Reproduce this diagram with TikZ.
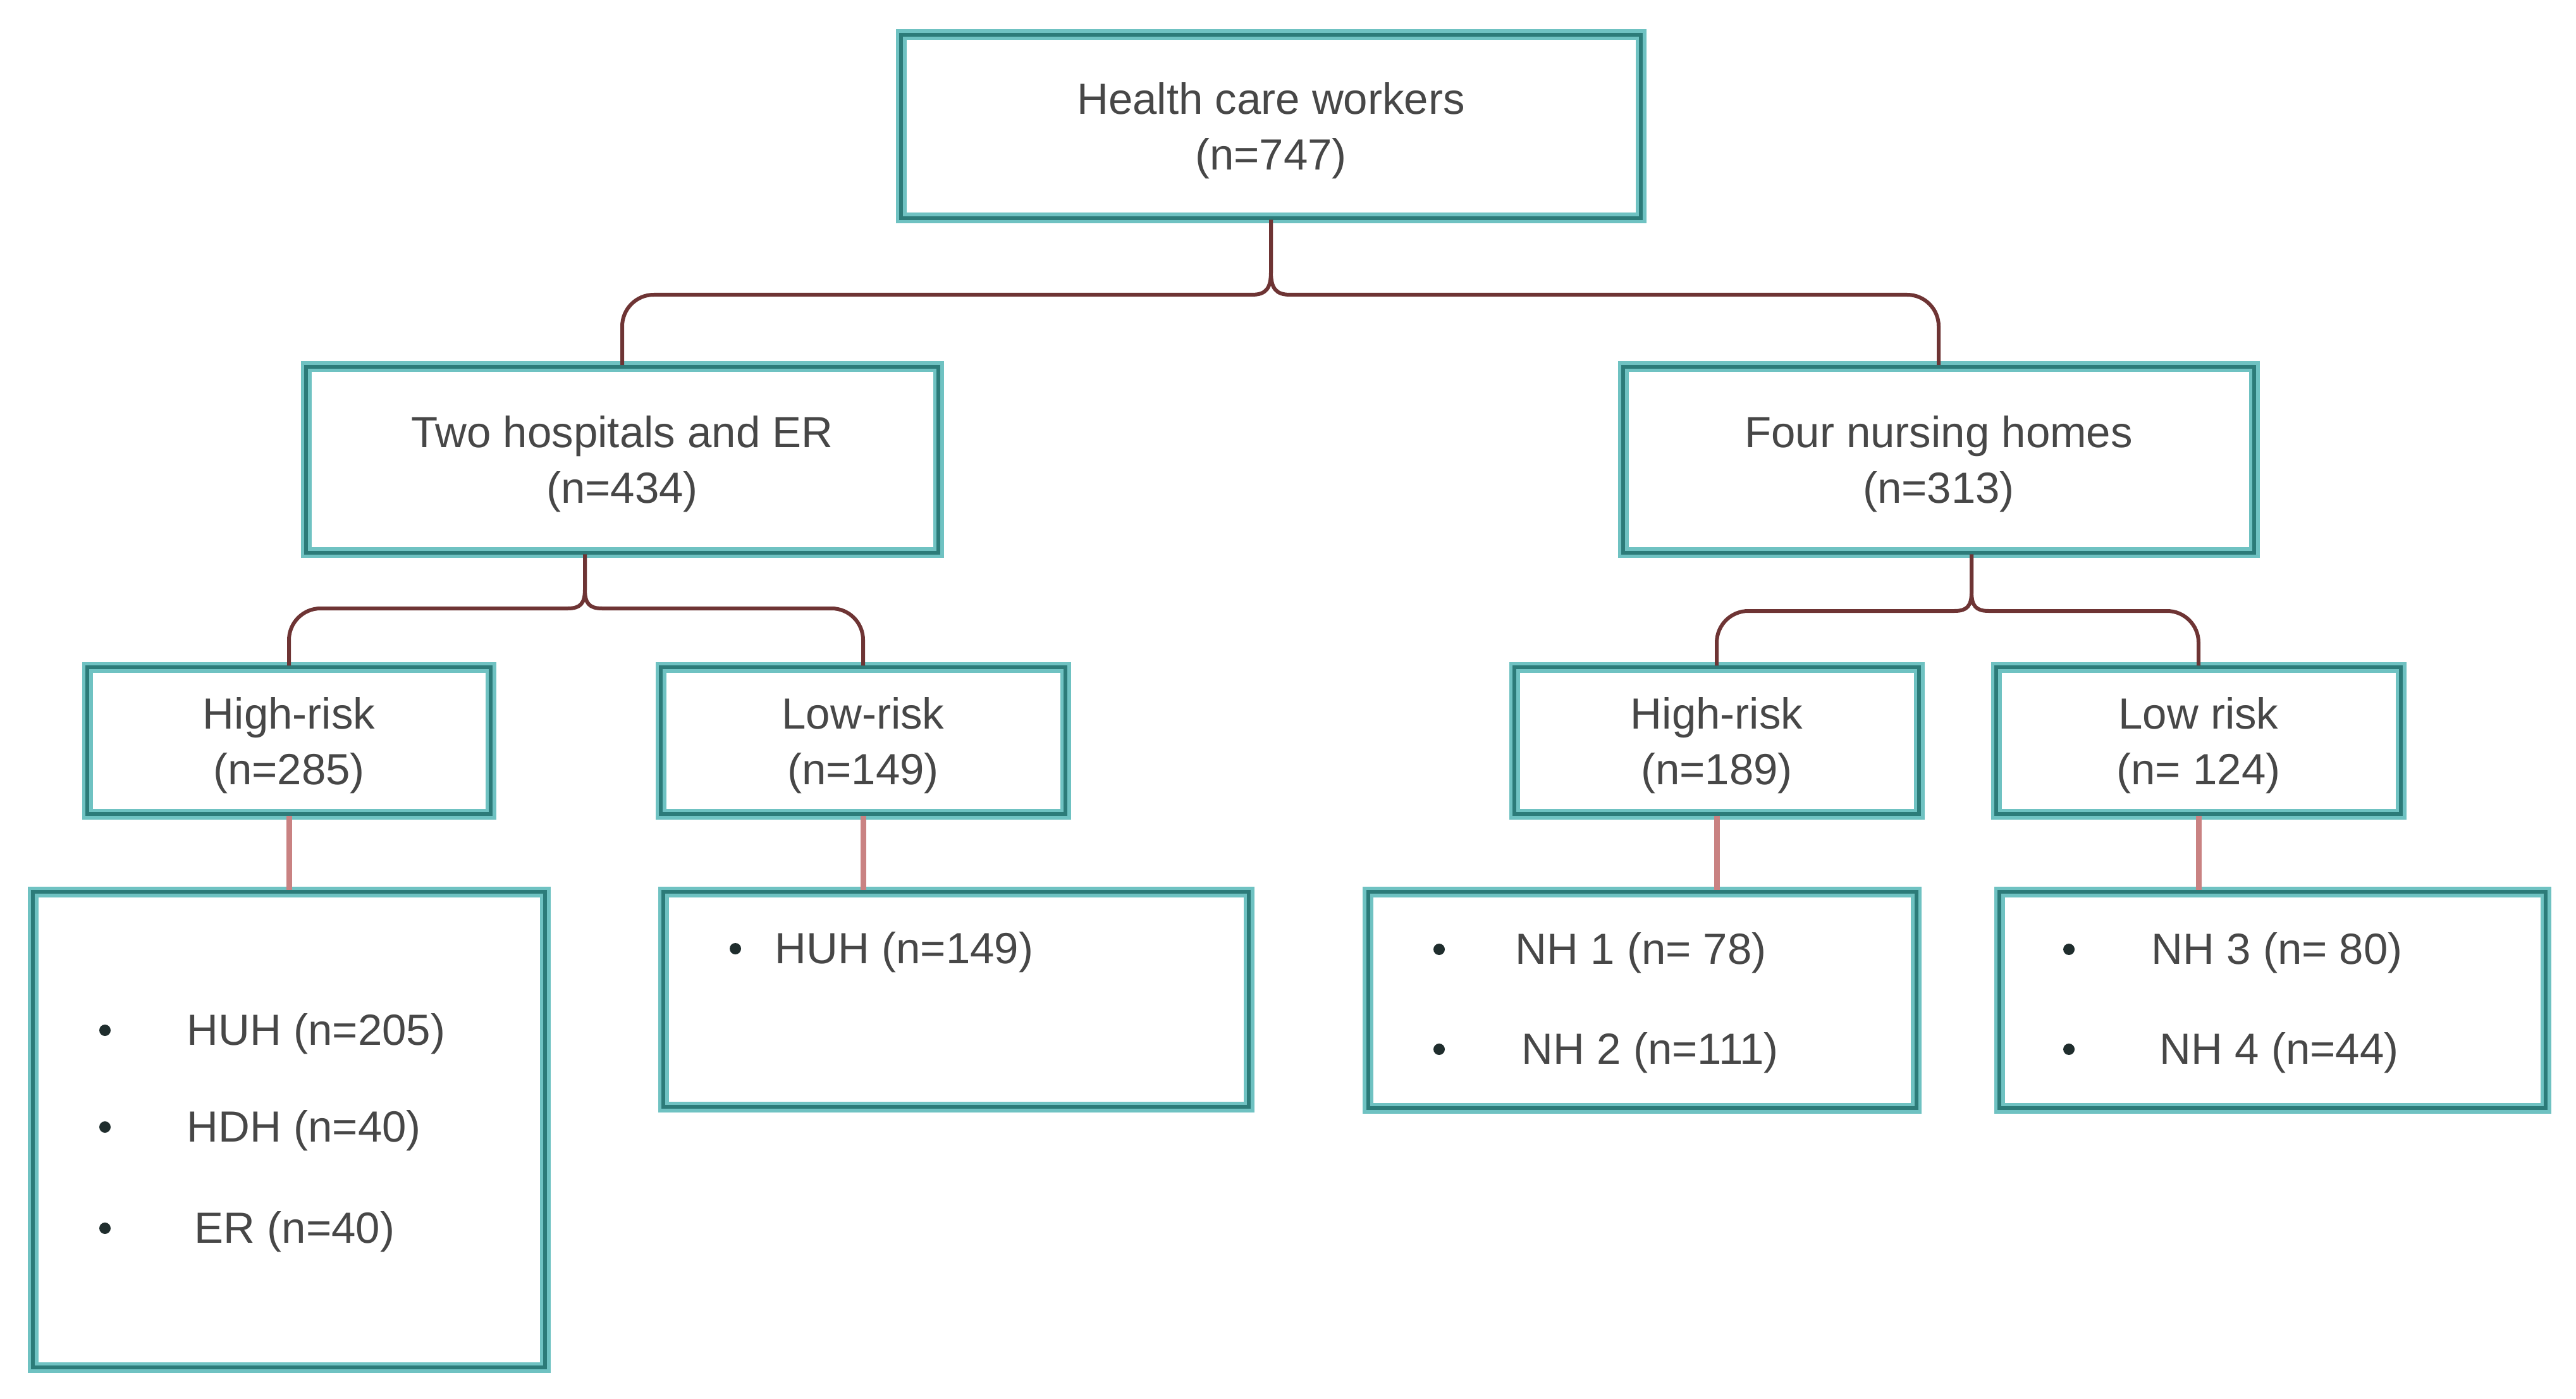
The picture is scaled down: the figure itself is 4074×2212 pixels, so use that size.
\documentclass[tikz,border=0pt]{standalone}
\usepackage{fontspec}
\setmainfont{Liberation Sans}
\usetikzlibrary{calc}
\definecolor{tealL}{HTML}{6FC2C2}
\definecolor{tealD}{HTML}{2C7B79}
\definecolor{conD}{HTML}{6E3434}
\definecolor{conP}{HTML}{C98282}
\definecolor{txt}{HTML}{474747}
\definecolor{bul}{HTML}{1F2D2D}
\begin{document}
\begin{tikzpicture}[x=0.25pt,y=-0.25pt,
  box/.style={draw=tealL, double=tealD, line width=1.375pt, double distance=1.5pt,
    fill=white, align=center, inner sep=0pt, text=txt, text depth=0pt,
    font=\fontsize{17.25pt}{22pt}\selectfont},
  link/.style={draw=conD, line width=1.5pt},
  stem/.style={draw=conP, line width=2.25pt},
  item/.style={anchor=base west, inner sep=0pt, text=txt,
    font=\fontsize{17.25pt}{22pt}\selectfont},
  dot/.style={circle, fill=bul, inner sep=0pt, minimum size=4.5pt}]
\fill[white] (0,0) rectangle (4074,2212);
\useasboundingbox (0,0) rectangle (4074,2212);

% boxes
\node[box, minimum width=292.5pt, minimum height=72.5pt] (hcw) at (2010,200) {Health care workers\\(n=747)};
\node[box, minimum width=250pt, minimum height=73.5pt] (hosp) at (984,727) {Two hospitals and ER\\(n=434)};
\node[box, minimum width=249.5pt, minimum height=73.5pt] (nh) at (3066,727) {Four nursing homes\\(n=313)};
\node[box, minimum width=159.5pt, minimum height=58pt] (hr1) at (457,1171) {High-risk\\(n=285)};
\node[box, minimum width=160pt, minimum height=58pt] (lr1) at (1365,1171) {Low-risk\\(n=149)};
\node[box, minimum width=160pt, minimum height=58pt] (hr2) at (2715,1171) {High-risk\\(n=189)};
\node[box, minimum width=160pt, minimum height=58pt] (lr2) at (3477,1171) {Low risk\\(n= 124)};
\node[box, minimum width=202.5pt, minimum height=188pt] (l1) at (457,1786) {};
\node[box, minimum width=231.5pt, minimum height=85pt] (l2) at (1512,1580) {};
\node[box, minimum width=216.75pt, minimum height=85.5pt] (l3) at (2597,1581) {};
\node[box, minimum width=216pt, minimum height=85.5pt] (l4) at (3594,1581) {};

% top split
\draw[link] (hcw.south) -- (2010,430) .. controls (2010,456) and (2002,466) .. (1980,466)
  [rounded corners=12.5pt] -- (hosp.north |- 0,466) -- (hosp.north);
\draw[link] (hcw.south) -- (2010,430) .. controls (2010,456) and (2018,466) .. (2040,466)
  [rounded corners=12.5pt] -- (nh.north |- 0,466) -- (nh.north);

% hospitals split
\draw[link] (hosp.south -| 925,0) -- (925,932) .. controls (925,954) and (918,962) .. (898,962)
  [rounded corners=12.5pt] -- (hr1.north |- 0,962) -- (hr1.north);
\draw[link] (hosp.south -| 925,0) -- (925,932) .. controls (925,954) and (932,962) .. (952,962)
  [rounded corners=12.5pt] -- (lr1.north |- 0,962) -- (lr1.north);

% nursing homes split
\draw[link] (nh.south -| 3118,0) -- (3118,936) .. controls (3118,958) and (3111,966) .. (3091,966)
  [rounded corners=12.5pt] -- (hr2.north |- 0,966) -- (hr2.north);
\draw[link] (nh.south -| 3118,0) -- (3118,936) .. controls (3118,958) and (3125,966) .. (3145,966)
  [rounded corners=12.5pt] -- (lr2.north |- 0,966) -- (lr2.north);

% stems
\draw[stem] (hr1.south) -- (hr1.south |- l1.north);
\draw[stem] (lr1.south) -- (lr1.south |- l2.north);
\draw[stem] (hr2.south) -- (hr2.south |- l3.north);
\draw[stem] (lr2.south) -- (lr2.south |- l4.north);

% list 1
\node[dot] (b11) at (166,1629) {};
\node[item] (t11) at (295,1652) {HUH (n=205)};
\node[dot] (b12) at (166,1782) {};
\node[item] (t12) at (295,1805) {HDH (n=40)};
\node[dot] (b13) at (166,1942) {};
\node[item] (t13) at (307,1965) {ER (n=40)};

% list 2
\node[dot] (b21) at (1163,1500) {};
\node[item] (t21) at (1225,1523) {HUH (n=149)};

% list 3
\node[dot] (b31) at (2276,1501) {};
\node[item] (t31) at (2396,1524) {NH 1 (n= 78)};
\node[dot] (b32) at (2276,1659) {};
\node[item] (t32) at (2406,1682) {NH 2 (n=111)};

% list 4
\node[dot] (b41) at (3272,1501) {};
\node[item] (t41) at (3402,1524) {NH 3 (n= 80)};
\node[dot] (b42) at (3272,1659) {};
\node[item] (t42) at (3415,1682) {NH 4 (n=44)};
\end{tikzpicture}
\end{document}
